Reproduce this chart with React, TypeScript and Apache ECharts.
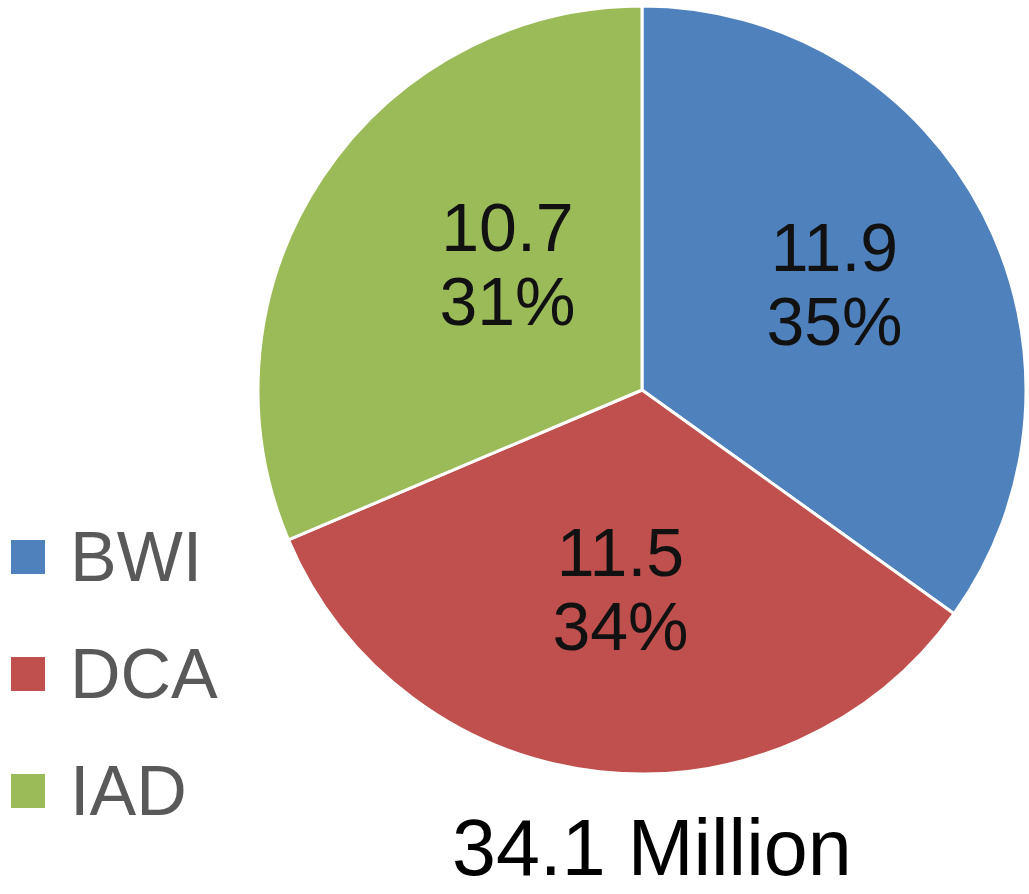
import React, { useEffect, useRef } from "react";
import * as echarts from "echarts";

const categories = ["BWI", "DCA", "IAD"];
const values = [11.9, 11.5, 10.7];
const colors = ["#4F81BD", "#C0504D", "#9BBB59"];
const totalLabel = "34.1 Million";
const labelShift = [
  [19, -17],
  [0, 5],
  [28, -18],
];

export default function App() {
  const ref = useRef<HTMLDivElement>(null);
  useEffect(() => {
    document.body.style.margin = "0";
    const chart = echarts.init(ref.current!, null, { renderer: "svg" });
    chart.setOption({
      animation: false,
      color: colors,
      legend: {
        orient: "vertical",
        left: 9,
        top: 520,
        padding: 0,
        itemWidth: 36,
        itemHeight: 36,
        itemGap: 43,
        icon: "rect",
        data: categories,
        textStyle: {
          fontFamily: "Liberation Sans, Arial, sans-serif",
          fontSize: 70,
          lineHeight: 74,
          color: "#595959",
          padding: [0, 0, 0, 19],
        },
      },
      graphic: [
        {
          type: "text",
          left: 452,
          top: 808,
          style: {
            text: totalLabel,
            fontFamily: "Liberation Sans, Arial, sans-serif",
            fontSize: 79,
            fill: "#000",
          },
        },
      ],
      series: [
        {
          type: "pie",
          center: [642, 390],
          radius: 384,
          startAngle: 90,
          clockwise: true,
          percentPrecision: 0,
          itemStyle: { borderColor: "#fff", borderWidth: 3 },
          label: {
            position: "inside",
            formatter: "{c}\n{d}%",
            fontFamily: "Liberation Sans, Arial, sans-serif",
            fontSize: 68,
            lineHeight: 74,
            color: "#111",
          },
          labelLayout: (params: any) => ({
            dx: labelShift[params.dataIndex][0],
            dy: labelShift[params.dataIndex][1],
          }),
          emphasis: { disabled: true },
          data: categories.map((name, i) => ({ name, value: values[i] })),
        },
      ],
    });
    return () => chart.dispose();
  }, []);
  return <div ref={ref} style={{ width: 1029, height: 894 }} />;
}
